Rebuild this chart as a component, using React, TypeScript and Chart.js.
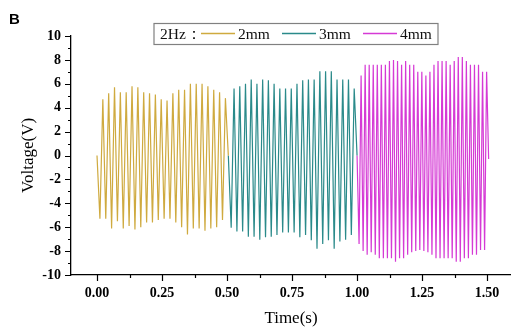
import React, { useEffect, useRef } from "react";
import { Chart, registerables } from "chart.js";

Chart.register(...registerables);

// ---- data ----
const seriesLabels = ["2mm", "3mm", "4mm"];
const legendPrefix = "2Hz：";
const seriesColors = ["#CFAA3F", "#2A8A8A", "#D53AD5"];
const segStart = [0, 0.505, 1.0];
const segEnd = [0.505, 1.0, 1.506];
const segEndValue = [0, 0, -0.3];

const troughs2mm = [-5.3, -5.3, -6.1, -5.5, -6.1, -5.9, -6.2, -6.0, -5.6, -5.6, -5.4, -5.3, -5.3, -5.6, -6.0, -6.6, -6.1, -6.1, -6.3, -6.1, -6.0, -5.4];
const peaks2mm = [4.7, 5.2, 5.7, 5.3, 5.3, 5.8, 5.7, 5.3, 5.2, 5.1, 4.7, 4.6, 5.2, 5.5, 5.5, 6.0, 6.0, 6.0, 5.8, 5.5, 5.3, 4.8];

const troughs3mm = [-6.05, -6.35, -6.35, -6.8, -6.8, -7.05, -6.85, -6.8, -6.65, -6.45, -6.45, -6.45, -6.85, -6.65, -7.1, -7.8, -7.4, -7.1, -7.8, -7.2, -7.05, -6.65];
const peaks3mm = [5.6, 5.8, 6.0, 6.35, 6.0, 6.35, 6.3, 6.0, 5.6, 5.6, 5.6, 6.0, 6.3, 6.35, 6.35, 7.05, 7.05, 7.05, 6.35, 6.35, 6.35, 5.6];

const troughs4mm = [-7.4, -8.0, -8.3, -8.1, -8.3, -8.6, -8.6, -8.6, -8.6, -8.9, -8.6, -8.6, -8.3, -8.1, -8.0, -7.9, -8.0, -8.1, -8.3, -8.6, -8.6, -8.6, -8.6, -8.6, -8.9, -8.9, -8.6, -8.6, -8.3, -8.3, -7.9, -7.9];
const peaks4mm = [6.7, 7.6, 7.6, 7.6, 7.6, 7.6, 7.6, 7.9, 8.0, 7.9, 7.6, 7.9, 7.6, 7.6, 7.0, 7.0, 6.7, 7.0, 7.6, 7.9, 7.9, 7.9, 7.6, 7.9, 8.25, 8.25, 7.9, 7.6, 7.6, 7.6, 7.0, 7.0];

const xTickValues = [0, 0.25, 0.5, 0.75, 1.0, 1.25, 1.5];
const xMinorValues = [0.125, 0.375, 0.625, 0.875, 1.125, 1.375];
const yTickValues = [-10, -8, -6, -4, -2, 0, 2, 4, 6, 8, 10];
const yMinorValues = [-9, -7, -5, -3, -1, 1, 3, 5, 7, 9];

const allTroughs = [troughs2mm, troughs3mm, troughs4mm];
const allPeaks = [peaks2mm, peaks3mm, peaks4mm];

function buildSeries(i: number) {
  const tr = allTroughs[i];
  const pk = allPeaks[i];
  const values: number[] = [0];
  for (let k = 0; k < tr.length; k++) {
    values.push(tr[k]);
    values.push(pk[k]);
  }
  values.push(segEndValue[i]);
  const n = values.length - 1;
  const step = (segEnd[i] - segStart[i]) / n;
  return values.map((y, k) => ({ x: segStart[i] + k * step, y }));
}

const SERIF = "'Liberation Serif', 'Times New Roman', serif";

const decorPlugin = {
  id: "decor",
  afterDraw(chart: any) {
    const ctx = chart.ctx;
    const xs = chart.scales.x;
    const ys = chart.scales.y;
    const area = chart.chartArea;
    ctx.save();
    ctx.strokeStyle = "#000";
    ctx.lineWidth = 1.2;
    ctx.beginPath();
    xTickValues.forEach((v) => {
      const px = Math.round(xs.getPixelForValue(v)) + 0.5;
      ctx.moveTo(px, area.bottom);
      ctx.lineTo(px, area.bottom + 6);
    });
    xMinorValues.forEach((v) => {
      const px = Math.round(xs.getPixelForValue(v)) + 0.5;
      ctx.moveTo(px, area.bottom);
      ctx.lineTo(px, area.bottom + 3);
    });
    yTickValues.forEach((v) => {
      const py = Math.round(ys.getPixelForValue(v)) + 0.5;
      ctx.moveTo(area.left, py);
      ctx.lineTo(area.left - 6, py);
    });
    yMinorValues.forEach((v) => {
      const py = Math.round(ys.getPixelForValue(v)) + 0.5;
      ctx.moveTo(area.left, py);
      ctx.lineTo(area.left - 3, py);
    });
    ctx.stroke();

    // panel letter
    ctx.fillStyle = "#000";
    ctx.font = "bold 15px 'Liberation Sans', Arial, sans-serif";
    ctx.textBaseline = "middle";
    ctx.textAlign = "left";
    ctx.fillText("B", 9, 20);

    // legend box
    const bx = 154, by = 23.5, bw = 284, bh = 21;
    ctx.strokeStyle = "#808080";
    ctx.lineWidth = 1.2;
    ctx.strokeRect(bx, by, bw, bh);
    ctx.font = "15.5px " + SERIF;
    ctx.fillStyle = "#111";
    const cy = by + bh / 2 + 0.5;
    ctx.fillText(legendPrefix, 160, cy);
    const lineStarts = [201, 282, 363];
    seriesLabels.forEach((lab, i) => {
      const lx = lineStarts[i];
      ctx.strokeStyle = seriesColors[i];
      ctx.lineWidth = 1.3;
      ctx.beginPath();
      ctx.moveTo(lx, cy - 1);
      ctx.lineTo(lx + 34, cy - 1);
      ctx.stroke();
      ctx.fillStyle = "#111";
      ctx.fillText(lab, lx + 37, cy);
    });
    ctx.restore();
  },
};

export default function App() {
  const ref = useRef<HTMLCanvasElement | null>(null);
  useEffect(() => {
    if (!ref.current) return;
    const chart = new Chart(ref.current, {
      type: "line",
      data: {
        datasets: seriesLabels.map((lab, i) => ({
          label: lab,
          data: buildSeries(i),
          borderColor: seriesColors[i],
          backgroundColor: seriesColors[i],
          borderWidth: 1.2,
          pointRadius: 0,
          tension: 0,
          fill: false,
        })),
      },
      options: {
        animation: false,
        responsive: false,
        maintainAspectRatio: false,
        devicePixelRatio: 1,
        layout: { padding: { left: 0, right: 0, top: 36, bottom: 0 } },
        plugins: { legend: { display: false }, tooltip: { enabled: false } },
        scales: {
          x: {
            type: "linear",
            min: -0.1,
            max: 1.592,
            afterBuildTicks: (scale: any) => {
              scale.ticks = xTickValues.map((v) => ({ value: v }));
            },
            afterFit: (scale: any) => {
              scale.height = 54;
            },
            grid: { display: false, drawTicks: false },
            border: { display: true, color: "#000", width: 1.3 },
            ticks: {
              color: "#000",
              padding: 10,
              maxRotation: 0,
              autoSkip: false,
              font: { family: SERIF, size: 14, weight: "bold" },
              callback: (v: any) => Number(v).toFixed(2),
            },
            title: {
              display: true,
              text: "Time(s)",
              color: "#000",
              font: { family: SERIF, size: 17 },
              padding: { top: 0, bottom: 0 },
            },
          },
          y: {
            type: "linear",
            min: -10,
            max: 10,
            afterBuildTicks: (scale: any) => {
              scale.ticks = yTickValues.map((v) => ({ value: v }));
            },
            afterFit: (scale: any) => {
              scale.width = 71;
            },
            grid: { display: false, drawTicks: false },
            border: { display: true, color: "#000", width: 1.3 },
            ticks: {
              color: "#000",
              padding: 10,
              autoSkip: false,
              font: { family: SERIF, size: 14, weight: "bold" },
            },
            title: {
              display: true,
              text: "Voltage(V)",
              color: "#000",
              font: { family: SERIF, size: 17 },
              padding: { top: 18, bottom: 0 },
            },
          },
        },
      },
      plugins: [decorPlugin],
    } as any);
    return () => chart.destroy();
  }, []);
  return (
    <div style={{ position: "fixed", left: 0, top: 0, width: 511, height: 329, background: "#fff" }}>
      <canvas ref={ref} width={511} height={329} style={{ display: "block", width: 511, height: 329 }} />
    </div>
  );
}
